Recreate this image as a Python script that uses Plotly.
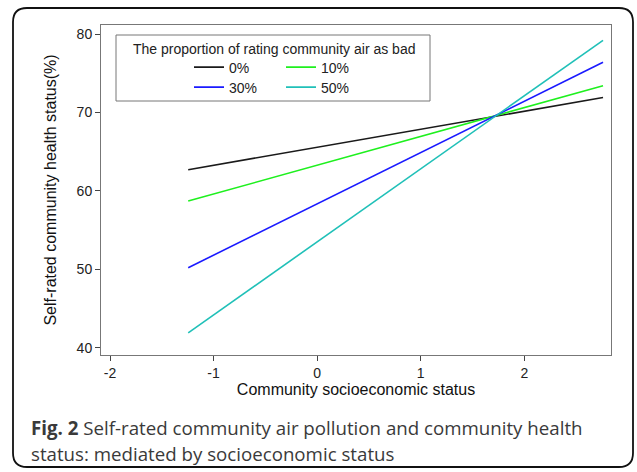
import plotly.graph_objects as go

# Predicted community health by socioeconomic status, at four levels of
# the share of residents rating community air as bad
ses = [-1.245, 2.76]
series_names = ["0%", "10%", "30%", "50%"]
health_0 = [62.7, 71.9]
health_10 = [58.7, 73.4]
health_30 = [50.2, 76.4]
health_50 = [41.9, 79.2]

x_ticks = [-2, -1, 0, 1, 2]
x_tick_labels = ["-2", "-1", "0", "1", "2"]
y_ticks = [40, 50, 60, 70, 80]
y_tick_labels = ["40", "50", "60", "70", "80"]

colors = ["#1a1a1a", "#1ef01e", "#1a1aff", "#20c0b8"]
legends = ["legend", "legend", "legend2", "legend2"]
values = [health_0, health_10, health_30, health_50]

W, H = 637, 472
ML, MR, MT, MB = 101, 26, 25, 117
PW, PH = W - ML - MR, H - MT - MB


def px(x):
    return (x - ML) / PW


def py(y):
    return 1 - (y - MT) / PH


fig = go.Figure()
for name, vals, col, lg in zip(series_names, values, colors, legends):
    fig.add_trace(go.Scatter(
        x=ses, y=vals, mode="lines", name=name, legend=lg,
        line=dict(color=col, width=1.6),
    ))

FAMILY = "Liberation Sans, Arial, sans-serif"
axis_font = dict(family=FAMILY, size=14, color="#222")
title_font = dict(family=FAMILY, size=16, color="#111")

# rounded outer border around the figure and caption
l, r, t, b, rad = 13, 633, 8, 467, 14
border = (
    f"M {px(l + rad)},{py(t)} L {px(r - rad)},{py(t)} "
    f"Q {px(r)},{py(t)} {px(r)},{py(t + rad)} "
    f"L {px(r)},{py(b - rad)} Q {px(r)},{py(b)} {px(r - rad)},{py(b)} "
    f"L {px(l + rad)},{py(b)} Q {px(l)},{py(b)} {px(l)},{py(b - rad)} "
    f"L {px(l)},{py(t + rad)} Q {px(l)},{py(t)} {px(l + rad)},{py(t)} Z"
)

shapes = [
    dict(type="path", xref="paper", yref="paper", path=border,
         line=dict(color="#111", width=1.8)),
    # legend box
    dict(type="rect", xref="paper", yref="paper",
         x0=px(116), x1=px(430), y0=py(35), y1=py(101),
         line=dict(color="#777", width=1), fillcolor="white", layer="below"),
]

caption_font = dict(family="Open Sans, sans-serif", size=18.7, color="#3a3a3a")
annotations = [
    dict(text="The proportion of rating community air as bad",
         xref="paper", yref="paper", x=px(274), y=py(49),
         xanchor="center", yanchor="middle", showarrow=False, font=axis_font),
    dict(text="<b>Fig. 2</b> Self-rated community air pollution and community health",
         xref="paper", yref="paper", x=px(29), y=py(427),
         xanchor="left", yanchor="middle", showarrow=False, font=caption_font),
    dict(text="status: mediated by socioeconomic status",
         xref="paper", yref="paper", x=px(29), y=py(453),
         xanchor="left", yanchor="middle", showarrow=False, font=caption_font),
]

legend_common = dict(
    orientation="h", entrywidth=47, entrywidthmode="pixels",
    bgcolor="rgba(0,0,0,0)", borderwidth=0, font=axis_font,
    xanchor="left", yanchor="middle", traceorder="normal",
)

fig.update_layout(
    width=W, height=H,
    margin=dict(l=ML, r=MR, t=MT, b=MB),
    paper_bgcolor="white", plot_bgcolor="white",
    showlegend=True,
    legend=dict(x=px(189), y=py(67.5), **legend_common),
    legend2=dict(x=px(189), y=py(87.5), **legend_common),
    shapes=shapes,
    annotations=annotations,
    xaxis=dict(
        range=[-2.087, 2.837], tickvals=x_ticks, ticktext=x_tick_labels,
        showgrid=False, zeroline=False,
        showline=True, mirror=True, linecolor="#777", linewidth=1,
        ticks="outside", ticklen=5, tickcolor="#444", tickfont=axis_font,
        title=dict(text="Community socioeconomic status", font=title_font, standoff=4),
    ),
    yaxis=dict(
        range=[39.07, 81.15], tickvals=y_ticks, ticktext=y_tick_labels,
        showgrid=False, zeroline=False,
        showline=True, mirror=True, linecolor="#777", linewidth=1,
        ticks="outside", ticklen=5, tickcolor="#444", tickfont=axis_font,
        title=dict(text="Self-rated community health status(%)", font=title_font, standoff=16),
    ),
)

fig.write_html("out.html")
